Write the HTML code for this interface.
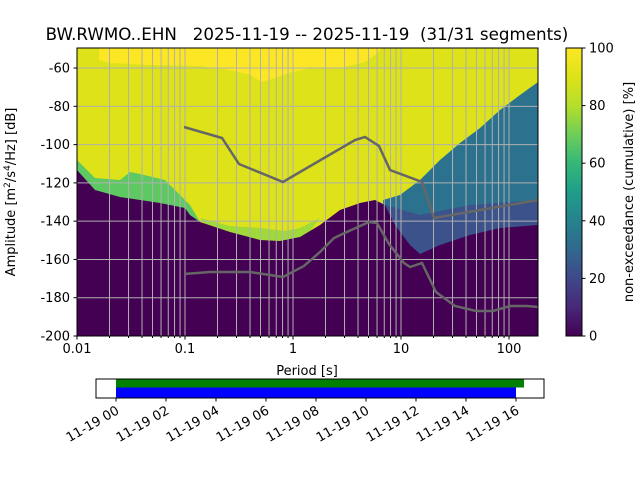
<!DOCTYPE html>
<html><head><meta charset="utf-8"><style>
body{margin:0;background:#fff;width:640px;height:480px;overflow:hidden}
svg text{font-family:"DejaVu Sans","Liberation Sans",sans-serif;font-size:13px;fill:#000}
</style></head><body>
<svg id="s" width="640" height="480" xmlns="http://www.w3.org/2000/svg">
<defs><linearGradient id="vir" x1="0" y1="1" x2="0" y2="0">
<stop offset="0" stop-color="#440154"/><stop offset="0.1" stop-color="#482878"/><stop offset="0.2" stop-color="#3e4989"/><stop offset="0.3" stop-color="#31688e"/><stop offset="0.4" stop-color="#26828e"/><stop offset="0.5" stop-color="#1f9e89"/><stop offset="0.6" stop-color="#35b779"/><stop offset="0.7" stop-color="#6ece58"/><stop offset="0.8" stop-color="#b5de2b"/><stop offset="0.9" stop-color="#dde318"/><stop offset="1" stop-color="#fde725"/></linearGradient>
<clipPath id="pc"><rect x="77" y="48" width="461" height="288"/></clipPath></defs>
<text x="307" y="40" text-anchor="middle" style="font-size:16.7px;white-space:pre" xml:space="preserve">BW.RWMO..EHN   2025-11-19 -- 2025-11-19  (31/31 segments)</text>
<g clip-path="url(#pc)">
<rect x="77" y="48" width="461" height="288" fill="#dde318"/>
<polygon fill="#fde725" points="99,48 99,60 110,63 150,65 200,66 230,70 250,75 262,82 275,78 292,72 310,68 340,68 365,62 375,55 382,48"/>
<polygon fill="#5ec962" points="77,160 85,168 95,178 120,180 130,172 140,174 165,180 190,205 200,222 77,222"/>
<polygon fill="#a0da39" points="200,218 230,226 260,228 285,231 300,228 320,218 300,245 220,245"/>
<polygon fill="#2c728e" points="383,200 400,195 420,180 440,160 460,143 480,128 500,110 520,95 538,82 538,336 383,336"/>
<polygon fill="#3b528b" points="385,205 420,215 470,205 538,200 538,336 385,336"/>
<polygon fill="#440154" points="77,170 95,190 120,197 160,203 185,208 190,215 200,222 230,232 260,240 280,241 300,237 320,225 340,210 360,203 375,200 385,205 395,225 410,245 420,254 440,245 470,235 500,228 538,225 538,336 77,336"/>
<g id="grid" stroke="#b0b0b0" stroke-width="1"></g>
<polyline fill="none" stroke="#666" stroke-width="2.5" points="184,127 222,138 239,164 283,182 300,172 355,140 365,137 379,146 390,170 422,182 434,218 538,200"/>
<polyline fill="none" stroke="#666" stroke-width="2.5" points="184,274 210,272 250,272 283,277 304,266 320,252 334,238 349,231 369,222 377,223 389,244 404,263 410,267 422,263 436,292 455,306 476,311 493,311 510,306 527,306 538,307"/>
</g>
<rect x="77" y="48" width="461" height="288" fill="none" stroke="#000" stroke-width="1"/>
<g id="ax"></g>
<text x="307" y="375" text-anchor="middle">Period [s]</text>
<text transform="translate(15,192) rotate(-90)" text-anchor="middle">Amplitude [m<tspan dy="-5" style="font-size:9px">2</tspan><tspan dy="5">/s</tspan><tspan dy="-5" style="font-size:9px">4</tspan><tspan dy="5">/Hz] [dB]</tspan></text>
<rect x="566" y="48" width="16" height="288" fill="url(#vir)" stroke="#000" stroke-width="1"/>
<text transform="translate(633,192) rotate(-90)" text-anchor="middle">non-exceedance (cumulative) [%]</text>
<rect x="96" y="379" width="448" height="19" fill="#fff" stroke="#000"/>
<rect x="116" y="379.5" width="408" height="8" fill="#008000"/>
<rect x="116" y="387.5" width="400" height="10" fill="#0000ff"/>
</svg>
<script>
var ns="http://www.w3.org/2000/svg",g=document.getElementById('grid'),ax=document.getElementById('ax');
function el(p,t,a,txt){var e=document.createElementNS(ns,t);for(var k in a)e.setAttribute(k,a[k]);if(txt!==undefined)e.textContent=txt;p.appendChild(e);return e;}
function X(v){return 77+108*(Math.log10(v)+2);}
for(var d=-2;d<=2;d++)for(var m=1;m<10;m++){var v=m*Math.pow(10,d);if(m==1&&d==-2)continue;var x=X(v);if(x>538)break;el(g,'line',{x1:x,x2:x,y1:48,y2:336});el(ax,'line',{x1:x,x2:x,y1:336,y2:m==1?339.5:338,stroke:'#000'});}
var lab={'-2':'0.01','-1':'0.1','0':'1','1':'10','2':'100'};
for(var d=-2;d<=2;d++){var x=X(Math.pow(10,d));el(ax,'line',{x1:x,x2:x,y1:336,y2:339.5,stroke:'#000'});el(ax,'text',{x:x,y:353,'text-anchor':'middle'},lab[d]);}
for(var a=-60;a>=-200;a-=20){var y=48.9+(-50-a)*1.914;if(a>-200)el(g,'line',{x1:77,x2:538,y1:y,y2:y});el(ax,'line',{x1:73.5,x2:77,y1:y,y2:y,stroke:'#000'});el(ax,'text',{x:70,y:y+4.5,'text-anchor':'end'},String(a));}
for(var p=0;p<=100;p+=20){var y=336-p*2.88;el(ax,'line',{x1:582,x2:585.5,y1:y,y2:y,stroke:'#000'});el(ax,'text',{x:589,y:y+4.5},String(p));}
for(var i=0;i<9;i++){var x=116+50*i;el(ax,'line',{x1:x,x2:x,y1:398,y2:401.5,stroke:'#000'});var h=(2*i<10?'0':'')+(2*i);el(ax,'text',{transform:'translate('+(x+4)+',413) rotate(-30)','text-anchor':'end'},'11-19 '+h);}
</script>
</body></html>
